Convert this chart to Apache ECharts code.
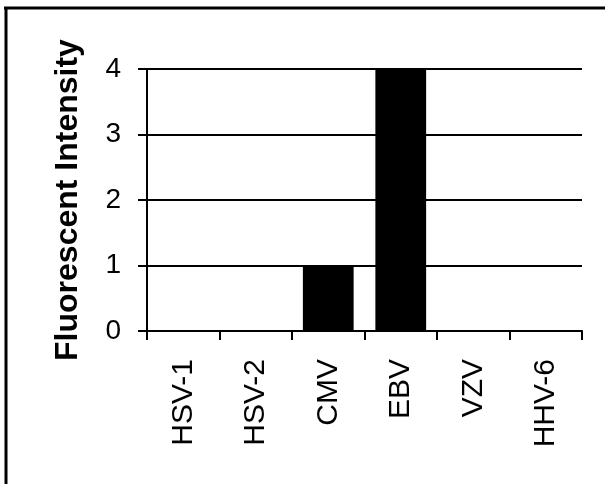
<!DOCTYPE html>
<html><head><meta charset="utf-8">
<script src="https://cdn.jsdelivr.net/npm/echarts@6/dist/echarts.min.js"></script>
<style>html,body{margin:0;padding:0;background:#fff}#c{width:605px;height:484px}</style>
</head><body><div id="c"></div>
<script>
const categories = ['HSV-1','HSV-2','CMV','EBV','VZV','HHV-6'];
const values = [0, 0, 1, 4, 0, 0];
const yTicks = [0, 1, 2, 3, 4];
const chart = echarts.init(document.getElementById('c'));
chart.setOption({
  animation: false,
  backgroundColor: '#fff',
  graphic: [
    {type:'line', shape:{x1:4,y1:8,x2:605,y2:8}, style:{stroke:'#000',lineWidth:3}},
    {type:'line', shape:{x1:6,y1:7,x2:6,y2:484}, style:{stroke:'#000',lineWidth:3}}
  ],
  grid: {left:147, right:23, top:69, bottom:153},
  xAxis: {
    type:'category', data: categories,
    axisLine:{lineStyle:{color:'#000',width:2}},
    axisTick:{show:true,length:9,lineStyle:{color:'#000',width:2}},
    axisLabel:{rotate:90, color:'#000', fontFamily:'Liberation Sans, Arial', fontSize:30, margin:28}
  },
  yAxis: {
    type:'value', min:0, max:4, interval:1,
    name:'Fluorescent Intensity', nameLocation:'middle', nameRotate:90, nameGap:63,
    nameTextStyle:{color:'#000', fontFamily:'Liberation Sans, Arial', fontSize:32, fontWeight:'bold'},
    axisLine:{show:true, lineStyle:{color:'#000',width:2}},
    axisTick:{show:true,length:9,lineStyle:{color:'#000',width:2}},
    axisLabel:{color:'#000', fontFamily:'Liberation Sans, Arial', fontSize:28, margin:26,
      formatter: v => yTicks.includes(v) ? String(v) : ''},
    splitLine:{show:true, lineStyle:{color:'#000',width:2}}
  },
  series: [{
    type:'bar', data: values, barCategoryGap:'30%',
    itemStyle:{color:'#000'}
  }]
});
</script></body></html>
